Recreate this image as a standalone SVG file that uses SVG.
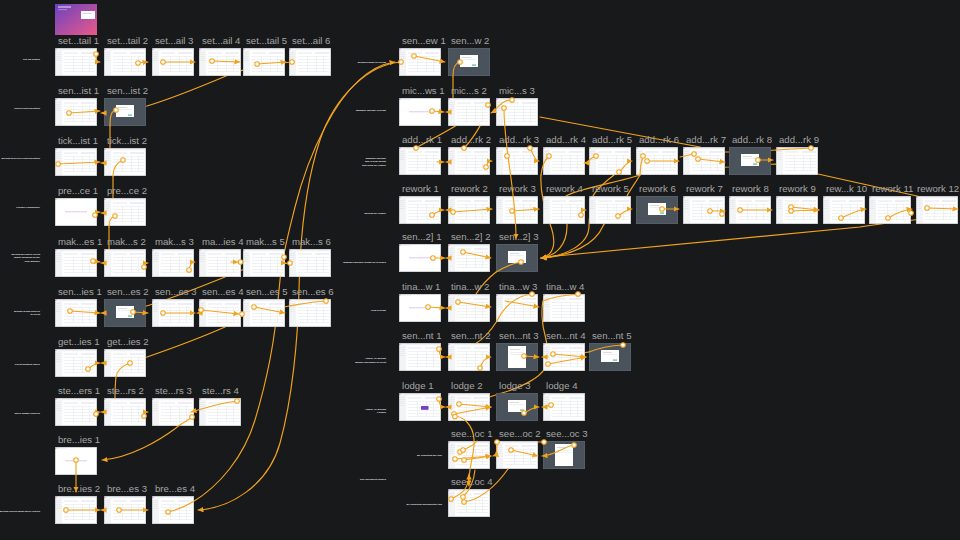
<svg xmlns="http://www.w3.org/2000/svg" xmlns:xlink="http://www.w3.org/1999/xlink" width="960" height="540" viewBox="0 0 960 540">
<style>
.ln{fill:none;stroke:#f2a31c;stroke-width:1.15;stroke-linecap:round}
.ar{marker-end:url(#arr)}
.hs{fill:#fff;stroke:#f2a31c;stroke-width:1.05}
.ttl{font-family:"Liberation Sans",Arial,sans-serif;font-size:9.6px;fill:#a6a6a6}
.lbl{font-family:"Liberation Sans",Arial,sans-serif;font-size:2.5px;font-weight:bold;fill:#e6e6e6;text-anchor:end}
</style>
<defs>
<marker id="arr" markerUnits="userSpaceOnUse" markerWidth="5.5" markerHeight="5.5" viewBox="0 0 10 10" refX="10" refY="5" orient="auto"><path d="M0,0L10,5L0,10z" fill="#f2a31c"/></marker>
<linearGradient id="cov" x1="0" y1="0" x2="1" y2="1"><stop offset="0" stop-color="#6a42c2"/><stop offset="1" stop-color="#ea5a88"/></linearGradient>
<symbol id="scr" viewBox="0 0 42 28">
<rect width="42" height="28" fill="#fff"/>
<rect width="7" height="28" fill="#f3f4f6"/>
<rect width="1.3" height="1.8" fill="#d43f8d"/>
<rect x="7" width="35" height="2.2" fill="#eef0f3"/>
<g fill="#dfe2e6">
<rect x="1.2" y="4" width="4.4" height=".6"/><rect x="1.2" y="6" width="4.4" height=".6"/><rect x="1.2" y="8" width="4.4" height=".6"/><rect x="1.2" y="10" width="4.4" height=".6"/><rect x="1.2" y="12" width="4.4" height=".6"/>
<rect x="9" y="4.6" width="14" height=".8"/>
<rect x="9" y="8" width="31" height=".45"/><rect x="9" y="11" width="31" height=".45"/><rect x="9" y="14" width="31" height=".45"/><rect x="9" y="17" width="31" height=".45"/><rect x="9" y="20" width="31" height=".45"/><rect x="9" y="23" width="31" height=".45"/>
<rect x="18" y="8" width=".45" height="16"/><rect x="27" y="8" width=".45" height="16"/><rect x="34" y="8" width=".45" height="16"/>
</g>
<rect x="26" y="4.3" width="14" height="1.3" fill="#e4e7f0"/>
<rect x=".3" y=".3" width="41.4" height="27.4" fill="none" stroke="#b5b8be" stroke-width=".6"/>
</symbol>
<symbol id="scr-blank" viewBox="0 0 42 28">
<rect width="42" height="28" fill="#fff"/>
<rect width="1.3" height="1.8" fill="#d43f8d"/>
<rect x="2" y="1.5" width="10" height=".6" fill="#e6e8ec"/>
<rect x="10" y="13.5" width="22" height=".7" fill="#cfb2e6"/>
<rect x=".3" y=".3" width="41.4" height="27.4" fill="none" stroke="#b5b8be" stroke-width=".6"/>
</symbol>
<symbol id="scr-dark" viewBox="0 0 42 28">
<rect width="42" height="28" fill="#4a525c"/>
<rect x="12" y="7" width="18" height="12" fill="#fff"/>
<rect x="14" y="9" width="9" height=".7" fill="#c9ccd2"/>
<rect x="14" y="11.5" width="14" height=".5" fill="#dde0e4"/>
<rect x="24" y="16.5" width="4" height="1.2" fill="#59c08a"/>
<rect x=".3" y=".3" width="41.4" height="27.4" fill="none" stroke="#5d6570" stroke-width=".6"/>
</symbol>
<symbol id="scr-doc" viewBox="0 0 42 28">
<rect width="42" height="28" fill="#4a525c"/>
<rect x="12" y="3" width="18" height="22" fill="#fff"/>
<rect x="14" y="6" width="10" height=".7" fill="#c9ccd2"/>
<rect x="14" y="9" width="14" height=".5" fill="#dde0e4"/>
<rect x="14" y="11" width="14" height=".5" fill="#dde0e4"/>
<rect x=".3" y=".3" width="41.4" height="27.4" fill="none" stroke="#5d6570" stroke-width=".6"/>
</symbol>
</defs>
<rect width="960" height="540" fill="#18191b"/>

<g id="labels">
<text class="lbl" x="40" y="60">Set job details</text>
<text class="lbl" x="40" y="109">Send client allocation</text>
<text class="lbl" x="40" y="158.5">Brenda ticks off client allocation</text>
<text class="lbl" x="40" y="207.5">Prepare compliance</text>
<text class="lbl" x="40" y="255.3">Brenda will query Client</text>
<text class="lbl" x="40" y="258.4">about holdings on the</text>
<text class="lbl" x="40" y="261.5">Trial Balance</text>
<text class="lbl" x="40" y="312.2">Brenda sends queries</text>
<text class="lbl" x="40" y="315.3">to client</text>
<text class="lbl" x="40" y="365">Client answers query</text>
<text class="lbl" x="40" y="414">Steve answer queries</text>
<text class="lbl" x="40" y="512">Brenda checks what Steve replied</text>
<text class="lbl" x="386" y="63">Brenda Sends to review</text>
<text class="lbl" x="386" y="111">Manager Michael reviews</text>
<text class="lbl" x="386" y="159">Manager Michael</text>
<text class="lbl" x="386" y="162.3">add review points</text>
<text class="lbl" x="386" y="165.6">and send for rework</text>
<text class="lbl" x="386" y="214">Brenda for rework</text>
<text class="lbl" x="386" y="262.5">Manager Michael sends for review 2</text>
<text class="lbl" x="386" y="310.5">Tina reviews</text>
<text class="lbl" x="386" y="359.2">Admin, or Brenda</text>
<text class="lbl" x="386" y="362.5">Bundle packages to client</text>
<text class="lbl" x="386" y="409.7">Admin, or Brenda</text>
<text class="lbl" x="386" y="413">Lodges</text>
<text class="lbl" x="442" y="455.5">By exporting the tool</text>
<text class="lbl" x="386" y="480">Due document signed</text>
<text class="lbl" x="442" y="504.5">By exporting document(s) tab</text>
</g>

<g id="connectors-behind">
<path class="ln" d="M292,62 C265,64 245,68 226,76 C200,87 170,99 147,106 C125,112 115,113 106,113"/>
<path class="ln" d="M110,126 L110,150 C110,158 109,163 106,163"/>
<path class="ln" d="M113,176 L113,200 C113,208 110,213 106,213"/>
<path class="ln" d="M109,227 L109,251 C109,258 108,263 106,263"/>
<path class="ln" d="M290,263 C268,265 252,268 242,270 C235,272 230,274 225,277 C205,285 185,293 168,299 C140,309 120,313 106,313"/>
<path class="ln" d="M289,306 C270,310 250,313 242,316 C235,319 230,323 225,327 C200,338 170,349 147,357 C128,362 115,363 106,363"/>
<path class="ln" d="M116,377 C115,385 115,392 115,400 C115,408 110,412 106,412"/>
<path class="ln ar" d="M193,501.7 C218.4,486.6 243.75,457.5 255,420 S275,340 278,300 S288,235 295,207 S335,70 395,62"/>
<path class="ln ar" d="M401,62 C370,64 335,95 320,140 S300,240 299,290 S292,400 280,443 S230,508 198,510"/>
<path class="ln" d="M453,76 L453,100 C453,108 452,112 451,112"/>
<path class="ln" d="M416,148 C430,140 450,130 465,120"/>
<path class="ln" d="M488,105 C487,118 472,140 464,148"/>
<path class="ln" d="M776,150 C760,151 740,152 726,152 C715,152 705,150 700,147 L540,117"/>
<path class="ln" d="M930,200 L917,196 L818,174 L776,164 L729,167 L705,168"/>
<path class="ln ar" d="M541,175 C540,190 545,210 550,224 C556,240 556,255 541,258"/>
<path class="ln ar" d="M640,175 C620,182 580,188 566,196 C566,210 567,220 567,226 C567,245 556,256 541,258"/>
<path class="ln ar" d="M614,175 C605,182 596,190 593,196 C590,210 589,220 589,226 C589,245 565,256 541,258"/>
<path class="ln ar" d="M640,175 C636,182 630,190 627,196 C615,210 606,220 603,226 C595,245 570,256 541,258"/>
<path class="ln ar" d="M925,219 C900,221 880,224 860,227 L556,256 C550,257 546,258 541,258"/>
<path class="ln" d="M495.8,272.3 C487.7,278.6 480.95,286.3 476,294 C470,303 460,308 451,308"/>
<path class="ln" d="M497,321 C490,332 482,340 475,344 C468,350 458,357 451,357"/>
<path class="ln" d="M543,301 C541,310 542,325 545,335 C548,345 548,360 545,368 C540,378 520,388 502,393 C480,400 460,407 451,407"/>
<path class="ln" d="M589,352 C575,354 560,357 548,357"/>
<path class="ln" d="M508,469 C512,462 516,458 520,455"/>
</g>

<g id="n-cover"><rect x="55" y="4" width="42" height="31" fill="url(#cov)"/><rect x="58" y="6.5" width="13" height="1" fill="#fff" opacity=".85"/><rect x="58" y="9.5" width="9" height=".6" fill="#fff" opacity=".6"/><rect x="81" y="11" width="14" height="8" fill="#fff"/><rect x="83" y="13" width="9" height=".6" fill="#d9a3c2"/></g>

<g id="n-set-detail-1"><text class="ttl" x="58" y="43.5">set...tail 1</text><use href="#scr" x="55" y="48" width="42" height="28"/></g>
<g id="n-set-detail-2"><text class="ttl" x="107" y="43.5">set...tail 2</text><use href="#scr" x="104" y="48" width="42" height="28"/></g>
<g id="n-set-detail-3"><text class="ttl" x="155" y="43.5">set...ail 3</text><use href="#scr" x="152" y="48" width="42" height="28"/></g>
<g id="n-set-detail-4"><text class="ttl" x="202" y="43.5">set...ail 4</text><use href="#scr" x="199" y="48" width="42" height="28"/></g>
<g id="n-set-detail-5"><text class="ttl" x="246" y="43.5">set...tail 5</text><use href="#scr" x="243" y="48" width="42" height="28"/></g>
<g id="n-set-detail-6"><text class="ttl" x="292" y="43.5">set...ail 6</text><use href="#scr" x="289" y="48" width="42" height="28"/></g>

<g id="n-send-list-1"><text class="ttl" x="58" y="93.5">sen...ist 1</text><use href="#scr" x="55" y="98" width="42" height="28"/></g>
<g id="n-send-list-2"><text class="ttl" x="107" y="93.5">sen...ist 2</text><use href="#scr-dark" x="104" y="98" width="42" height="28"/></g>
<g id="n-tick-list-1"><text class="ttl" x="58" y="143.5">tick...ist 1</text><use href="#scr" x="55" y="148" width="42" height="28"/></g>
<g id="n-tick-list-2"><text class="ttl" x="107" y="143.5">tick...ist 2</text><use href="#scr" x="104" y="148" width="42" height="28"/></g>
<g id="n-prepare-1"><text class="ttl" x="58" y="193.5">pre...ce 1</text><use href="#scr-blank" x="55" y="198" width="42" height="28"/></g>
<g id="n-prepare-2"><text class="ttl" x="107" y="193.5">pre...ce 2</text><use href="#scr" x="104" y="198" width="42" height="28"/></g>

<g id="n-make-1"><text class="ttl" x="58" y="244.5">mak...es 1</text><use href="#scr" x="55" y="249" width="42" height="28"/></g>
<g id="n-make-2"><text class="ttl" x="107" y="244.5">mak...s 2</text><use href="#scr" x="104" y="249" width="42" height="28"/></g>
<g id="n-make-3"><text class="ttl" x="155" y="244.5">mak...s 3</text><use href="#scr" x="152" y="249" width="42" height="28"/></g>
<g id="n-make-4"><text class="ttl" x="202" y="244.5">ma...ies 4</text><use href="#scr" x="199" y="249" width="42" height="28"/></g>
<g id="n-make-5"><text class="ttl" x="246" y="244.5">mak...s 5</text><use href="#scr" x="243" y="249" width="42" height="28"/></g>
<g id="n-make-6"><text class="ttl" x="292" y="244.5">mak...s 6</text><use href="#scr" x="289" y="249" width="42" height="28"/></g>

<g id="n-send-q-1"><text class="ttl" x="58" y="294.5">sen...ies 1</text><use href="#scr" x="55" y="299" width="42" height="28"/></g>
<g id="n-send-q-2"><text class="ttl" x="107" y="294.5">sen...es 2</text><use href="#scr-dark" x="104" y="299" width="42" height="28"/></g>
<g id="n-send-q-3"><text class="ttl" x="155" y="294.5">sen...es 3</text><use href="#scr" x="152" y="299" width="42" height="28"/></g>
<g id="n-send-q-4"><text class="ttl" x="202" y="294.5">sen...es 4</text><use href="#scr" x="199" y="299" width="42" height="28"/></g>
<g id="n-send-q-5"><text class="ttl" x="246" y="294.5">sen...es 5</text><use href="#scr" x="243" y="299" width="42" height="28"/></g>
<g id="n-send-q-6"><text class="ttl" x="292" y="294.5">sen...es 6</text><use href="#scr" x="289" y="299" width="42" height="28"/></g>

<g id="n-get-1"><text class="ttl" x="58" y="344.5">get...ies 1</text><use href="#scr" x="55" y="349" width="42" height="28"/></g>
<g id="n-get-2"><text class="ttl" x="107" y="344.5">get...ies 2</text><use href="#scr" x="104" y="349" width="42" height="28"/></g>

<g id="n-steve-1"><text class="ttl" x="58" y="393.5">ste...ers 1</text><use href="#scr" x="55" y="398" width="42" height="28"/></g>
<g id="n-steve-2"><text class="ttl" x="107" y="393.5">ste...rs 2</text><use href="#scr" x="104" y="398" width="42" height="28"/></g>
<g id="n-steve-3"><text class="ttl" x="155" y="393.5">ste...rs 3</text><use href="#scr" x="152" y="398" width="42" height="28"/></g>
<g id="n-steve-4"><text class="ttl" x="202" y="393.5">ste...rs 4</text><use href="#scr" x="199" y="398" width="42" height="28"/></g>

<g id="n-brenda-1"><text class="ttl" x="58" y="442.5">bre...ies 1</text><use href="#scr-blank" x="55" y="447" width="42" height="28"/></g>
<g id="n-brenda-2"><text class="ttl" x="58" y="491.5">bre...ies 2</text><use href="#scr" x="55" y="496" width="42" height="28"/></g>
<g id="n-brenda-3"><text class="ttl" x="107" y="491.5">bre...es 3</text><use href="#scr" x="104" y="496" width="42" height="28"/></g>
<g id="n-brenda-4"><text class="ttl" x="155" y="491.5">bre...es 4</text><use href="#scr" x="152" y="496" width="42" height="28"/></g>

<g id="n-review-1"><text class="ttl" x="402" y="43.5">sen...ew 1</text><use href="#scr" x="399" y="48" width="42" height="28"/></g>
<g id="n-review-2"><text class="ttl" x="451" y="43.5">sen...w 2</text><use href="#scr-dark" x="448" y="48" width="42" height="28"/></g>

<g id="n-mic-1"><text class="ttl" x="402" y="93.5">mic...ws 1</text><use href="#scr-blank" x="399" y="98" width="42" height="28"/></g>
<g id="n-mic-2"><text class="ttl" x="451" y="93.5">mic...s 2</text><use href="#scr" x="448" y="98" width="42" height="28"/></g>
<g id="n-mic-3"><text class="ttl" x="499" y="93.5">mic...s 3</text><use href="#scr" x="496" y="98" width="42" height="28"/></g>

<g id="n-add-1"><text class="ttl" x="402" y="142.5">add...rk 1</text><use href="#scr" x="399" y="147" width="42" height="28"/></g>
<g id="n-add-2"><text class="ttl" x="451" y="142.5">add...rk 2</text><use href="#scr" x="448" y="147" width="42" height="28"/></g>
<g id="n-add-3"><text class="ttl" x="499" y="142.5">add...rk 3</text><use href="#scr" x="496" y="147" width="42" height="28"/></g>
<g id="n-add-4"><text class="ttl" x="546" y="142.5">add...rk 4</text><use href="#scr" x="543" y="147" width="42" height="28"/></g>
<g id="n-add-5"><text class="ttl" x="592" y="142.5">add...rk 5</text><use href="#scr" x="589" y="147" width="42" height="28"/></g>
<g id="n-add-6"><text class="ttl" x="639" y="142.5">add...rk 6</text><use href="#scr" x="636" y="147" width="42" height="28"/></g>
<g id="n-add-7"><text class="ttl" x="686" y="142.5">add...rk 7</text><use href="#scr" x="683" y="147" width="42" height="28"/></g>
<g id="n-add-8"><text class="ttl" x="732" y="142.5">add...rk 8</text><use href="#scr-dark" x="729" y="147" width="42" height="28"/></g>
<g id="n-add-9"><text class="ttl" x="779" y="142.5">add...rk 9</text><use href="#scr" x="776" y="147" width="42" height="28"/></g>

<g id="n-rework-1"><text class="ttl" x="402" y="191.5">rework 1</text><use href="#scr" x="399" y="196" width="42" height="28"/></g>
<g id="n-rework-2"><text class="ttl" x="451" y="191.5">rework 2</text><use href="#scr" x="448" y="196" width="42" height="28"/></g>
<g id="n-rework-3"><text class="ttl" x="499" y="191.5">rework 3</text><use href="#scr" x="496" y="196" width="42" height="28"/></g>
<g id="n-rework-4"><text class="ttl" x="546" y="191.5">rework 4</text><use href="#scr" x="543" y="196" width="42" height="28"/></g>
<g id="n-rework-5"><text class="ttl" x="592" y="191.5">rework 5</text><use href="#scr" x="589" y="196" width="42" height="28"/></g>
<g id="n-rework-6"><text class="ttl" x="639" y="191.5">rework 6</text><use href="#scr-dark" x="636" y="196" width="42" height="28"/></g>
<g id="n-rework-7"><text class="ttl" x="686" y="191.5">rework 7</text><use href="#scr" x="683" y="196" width="42" height="28"/></g>
<g id="n-rework-8"><text class="ttl" x="732" y="191.5">rework 8</text><use href="#scr" x="729" y="196" width="42" height="28"/></g>
<g id="n-rework-9"><text class="ttl" x="779" y="191.5">rework 9</text><use href="#scr" x="776" y="196" width="42" height="28"/></g>
<g id="n-rework-10"><text class="ttl" x="826" y="191.5">rew...k 10</text><use href="#scr" x="823" y="196" width="42" height="28"/></g>
<g id="n-rework-11"><text class="ttl" x="872" y="191.5">rework 11</text><use href="#scr" x="869" y="196" width="42" height="28"/></g>
<g id="n-rework-12"><text class="ttl" x="917" y="191.5">rework 12</text><use href="#scr" x="916" y="196" width="42" height="28"/></g>

<g id="n-review2-1"><text class="ttl" x="402" y="239.5">sen...2] 1</text><use href="#scr-blank" x="399" y="244" width="42" height="28"/></g>
<g id="n-review2-2"><text class="ttl" x="451" y="239.5">sen...2] 2</text><use href="#scr" x="448" y="244" width="42" height="28"/></g>
<g id="n-review2-3"><text class="ttl" x="499" y="239.5">sen...2] 3</text><use href="#scr-dark" x="496" y="244" width="42" height="28"/></g>

<g id="n-tina-1"><text class="ttl" x="402" y="289.5">tina...w 1</text><use href="#scr-blank" x="399" y="294" width="42" height="28"/></g>
<g id="n-tina-2"><text class="ttl" x="451" y="289.5">tina...w 2</text><use href="#scr" x="448" y="294" width="42" height="28"/></g>
<g id="n-tina-3"><text class="ttl" x="499" y="289.5">tina...w 3</text><use href="#scr" x="496" y="294" width="42" height="28"/></g>
<g id="n-tina-4"><text class="ttl" x="546" y="289.5">tina...w 4</text><use href="#scr" x="543" y="294" width="42" height="28"/></g>

<g id="n-client-1"><text class="ttl" x="402" y="338.5">sen...nt 1</text><use href="#scr" x="399" y="343" width="42" height="28"/></g>
<g id="n-client-2"><text class="ttl" x="451" y="338.5">sen...nt 2</text><use href="#scr" x="448" y="343" width="42" height="28"/></g>
<g id="n-client-3"><text class="ttl" x="499" y="338.5">sen...nt 3</text><use href="#scr-doc" x="496" y="343" width="42" height="28"/></g>
<g id="n-client-4"><text class="ttl" x="546" y="338.5">sen...nt 4</text><use href="#scr" x="543" y="343" width="42" height="28"/></g>
<g id="n-client-5"><text class="ttl" x="592" y="338.5">sen...nt 5</text><use href="#scr-dark" x="589" y="343" width="42" height="28"/></g>

<g id="n-lodge-1"><text class="ttl" x="402" y="388.5">lodge 1</text><use href="#scr" x="399" y="393" width="42" height="28"/><rect x="421" y="406" width="7.5" height="3.8" fill="#7b3fc4"/></g>
<g id="n-lodge-2"><text class="ttl" x="451" y="388.5">lodge 2</text><use href="#scr" x="448" y="393" width="42" height="28"/></g>
<g id="n-lodge-3"><text class="ttl" x="499" y="388.5">lodge 3</text><use href="#scr-dark" x="496" y="393" width="42" height="28"/></g>
<g id="n-lodge-4"><text class="ttl" x="546" y="388.5">lodge 4</text><use href="#scr" x="543" y="393" width="42" height="28"/></g>

<g id="n-seedoc-1"><text class="ttl" x="451" y="436.5">see...oc 1</text><use href="#scr" x="448" y="441" width="42" height="28"/></g>
<g id="n-seedoc-2"><text class="ttl" x="499" y="436.5">see...oc 2</text><use href="#scr" x="496" y="441" width="42" height="28"/></g>
<g id="n-seedoc-3"><text class="ttl" x="546" y="436.5">see...oc 3</text><use href="#scr-doc" x="543" y="441" width="42" height="28"/></g>
<g id="n-seedoc-4"><text class="ttl" x="451" y="484.5">see...oc 4</text><use href="#scr" x="448" y="489" width="42" height="28"/></g>

<g id="connectors">
<path class="ln ar" d="M96,54 C96,59 96,62 100,62"/>
<path class="ln ar" d="M138,63 L148,62"/>
<path class="ln ar" d="M163,62 L195,62"/>
<path class="ln ar" d="M212,61 L240,62"/>
<path class="ln ar" d="M257,64 L286,62"/>
<path class="ln ar" d="M69,113 L100,111"/>
<path class="ln ar" d="M106,113 L101,113"/>
<path class="ln" d="M116,110 C111,111 110,116 110,126"/>
<path class="ln ar" d="M58,164 L100,162"/>
<path class="ln ar" d="M106,163 L101,163"/>
<path class="ln" d="M123,160 C116,163 113,169 113,176"/>
<path class="ln ar" d="M95,215 C96,213 97,212 100,212"/>
<path class="ln ar" d="M106,213 L101,213"/>
<path class="ln" d="M115,216 C110,217 109,221 109,227"/>
<path class="ln ar" d="M93,261 L100,262"/>
<path class="ln ar" d="M106,263 L101,263"/>
<path class="ln ar" d="M144,267 C144,264 145,263 148,263"/>
<path class="ln ar" d="M189,270 C190,266 191,262 195,262"/>
<path class="ln ar" d="M231,262 L238,262"/>
<path class="ln ar" d="M284,257 C283,262 281,263 286,263"/>
<path class="ln ar" d="M70,311 L100,313"/>
<path class="ln ar" d="M106,313 L101,313"/>
<path class="ln ar" d="M133,312 L148,313"/>
<path class="ln ar" d="M163,313 L195,313"/>
<path class="ln ar" d="M202,313 L197,313"/>
<path class="ln ar" d="M201,310 L239,314"/>
<path class="ln ar" d="M254,307 L285,313"/>
<path class="ln" d="M326,301 C310,302 296,305 289,306"/>
<path class="ln ar" d="M88,369 C92,366 95,363 100,363"/>
<path class="ln ar" d="M106,363 L101,363"/>
<path class="ln" d="M130,363 C121,366 117,371 116,377"/>
<path class="ln ar" d="M96,414 C97,412 98,412 100,412"/>
<path class="ln ar" d="M106,412 L101,412"/>
<path class="ln ar" d="M144,416 C144,413 145,412 148,412"/>
<path class="ln ar" d="M237,401 C220,403 205,408 191,412"/>
<path class="ln ar" d="M192,417 C186,422 180,424 176,428 C160,440 130,458 102,460"/>
<path class="ln ar" d="M76,460 L76,492"/>
<path class="ln ar" d="M66,510 L100,510"/>
<path class="ln ar" d="M106,510 L101,510"/>
<path class="ln ar" d="M119,510 L148,510"/>
<path class="ln" d="M168,512 C176,510.25 184.5,506.75 193,501.7"/>

<path class="ln ar" d="M414,56 L445,62"/>
<path class="ln" d="M460,62 C455,63 453,68 453,76"/>
<path class="ln ar" d="M432,111 L444,112"/>
<path class="ln ar" d="M451,112 L446,112"/>
<path class="ln ar" d="M512,100 C500,100 497,110 491,113"/>
<path class="ln ar" d="M504,108 C504,150 516,190 516,239"/>
<path class="ln ar" d="M437,162 L444,162"/>
<path class="ln ar" d="M451,162 L446,162"/>
<path class="ln ar" d="M486,167 C488,163 488,161 492,161"/>
<path class="ln ar" d="M530,148 C533,152 534,161 539,161"/>
<path class="ln" d="M549,156 C544,160 542,167 541,175"/>
<path class="ln ar" d="M596,156 C590,157 589,163 584,163"/>
<path class="ln ar" d="M619,172 C624,168 627,161 632,161"/>
<path class="ln" d="M643,156 C641,162 640,168 640,175"/>
<path class="ln ar" d="M647,161 L679,161"/>
<path class="ln" d="M694,154 L680,157"/>
<path class="ln ar" d="M698,159 L725,162"/>
<path class="ln ar" d="M758,160 L773,160"/>
<path class="ln" d="M811,148 L776,150"/>
<path class="ln ar" d="M432,215 C437,212 440,210 444,210"/>
<path class="ln ar" d="M451,210 L446,210"/>
<path class="ln ar" d="M453,212 L492,209"/>
<path class="ln ar" d="M512,211 L539,209"/>
<path class="ln ar" d="M581,215 C581,211 582,210 586,210"/>
<path class="ln ar" d="M618,216 C623,213 627,209 632,209"/>
<path class="ln ar" d="M662,209 L679,209"/>
<path class="ln ar" d="M710,211 L725,211"/>
<path class="ln ar" d="M740,210 L772,210"/>
<path class="ln ar" d="M791,207 L819,210"/>
<path class="ln ar" d="M791,211 L819,210"/>
<path class="ln ar" d="M841,218 C850,214 858,210 866,209"/>
<path class="ln ar" d="M888,218 C895,214 903,210 912,209"/>
<path class="ln ar" d="M927,208 L958,209"/>
<path class="ln ar" d="M433,258 L445,258"/>
<path class="ln ar" d="M451,258 L446,258"/>
<path class="ln ar" d="M463,252 L491,258"/>
<path class="ln" d="M521,262 C511.5,263.8 503.3,267.6 495.8,272.3"/>
<path class="ln ar" d="M428,307 L445,308"/>
<path class="ln ar" d="M451,308 L446,308"/>
<path class="ln ar" d="M458,302 L491,307"/>
<path class="ln" d="M532,294 C515,296 503,308 497,321"/>
<path class="ln ar" d="M505,301 L539,307"/>
<path class="ln" d="M578,294 C566,295 552,297 543,301"/>
<path class="ln ar" d="M439,349 C439,354 440,357 445,357"/>
<path class="ln ar" d="M451,357 L446,357"/>
<path class="ln ar" d="M480,368 C482,362 485,357 491,357"/>
<path class="ln ar" d="M524,356 L539,357"/>
<path class="ln ar" d="M548,357 L542,357"/>
<path class="ln ar" d="M553,354 L586,357"/>
<path class="ln ar" d="M548,364 L586,357"/>
<path class="ln" d="M623,345 C605,346 594,350 589,352"/>
<path class="ln ar" d="M439,399 C439,404 440,407 445,407"/>
<path class="ln ar" d="M451,407 L446,407"/>
<path class="ln ar" d="M459,404 L491,407"/>
<path class="ln ar" d="M454,414 L491,407"/>
<path class="ln ar" d="M524,413 C530,410 533,407 539,407"/>
<path class="ln ar" d="M551,405 C547,406 546,407 542,407"/>
<path class="ln ar" d="M455,416 C468,418 475,430 474,445 C473,460 468,470 469,486"/>
<path class="ln" d="M463,450 C470,447 475,444 477,441"/>
<path class="ln ar" d="M455,459 L491,456"/>
<path class="ln ar" d="M464,460 L491,456"/>
<path class="ln ar" d="M451,499 C458,495 469,492 469,474"/>
<path class="ln" d="M464,502 C480,500 496,486 508,469"/>
<path class="ln" d="M463,497 C470,490 474,480 475,470"/>
<path class="ln ar" d="M497,442 C497,450 497,455 493,456"/>
<path class="ln ar" d="M511,450 L538,456"/>
<path class="ln" d="M544,442 L538,442"/>
<path class="ln ar" d="M574,445 C565,446 556,455 542,456"/>

<circle class="hs" cx="96" cy="54" r="2.3"/><circle class="hs" cx="138" cy="63" r="2.3"/><circle class="hs" cx="163" cy="62" r="2.3"/><circle class="hs" cx="212" cy="61" r="2.3"/><circle class="hs" cx="257" cy="64" r="2.3"/><circle class="hs" cx="292" cy="62" r="2.3"/>
<circle class="hs" cx="69" cy="113" r="2.3"/><circle class="hs" cx="116" cy="110" r="2.3"/>
<circle class="hs" cx="58" cy="164" r="2.3"/><circle class="hs" cx="123" cy="160" r="2.3"/>
<circle class="hs" cx="95" cy="215" r="2.3"/><circle class="hs" cx="115" cy="216" r="2.3"/>
<circle class="hs" cx="93" cy="261" r="2.3"/><circle class="hs" cx="144" cy="267" r="2.3"/><circle class="hs" cx="189" cy="270" r="2.3"/><circle class="hs" cx="240.5" cy="262" r="2.3"/><circle class="hs" cx="284" cy="257" r="2.3"/><circle class="hs" cx="290" cy="263" r="2.3"/>
<circle class="hs" cx="70" cy="311" r="2.3"/><circle class="hs" cx="133" cy="312" r="2.3"/><circle class="hs" cx="163" cy="313" r="2.3"/><circle class="hs" cx="201" cy="310" r="2.3"/><circle class="hs" cx="242" cy="314" r="2.3"/><circle class="hs" cx="254" cy="307" r="2.3"/><circle class="hs" cx="326" cy="301" r="2.3"/>
<circle class="hs" cx="88" cy="369" r="2.3"/><circle class="hs" cx="130" cy="363" r="2.3"/>
<circle class="hs" cx="96" cy="414" r="2.3"/><circle class="hs" cx="144" cy="416" r="2.3"/><circle class="hs" cx="192" cy="417" r="2.3"/><circle class="hs" cx="237" cy="401" r="2.3"/>
<circle class="hs" cx="76" cy="460" r="2.3"/>
<circle class="hs" cx="66" cy="510" r="2.3"/><circle class="hs" cx="119" cy="510" r="2.3"/><circle class="hs" cx="168" cy="512" r="2.3"/>
<circle class="hs" cx="401" cy="62" r="2.3"/><circle class="hs" cx="414" cy="56" r="2.3"/><circle class="hs" cx="460" cy="62" r="2.3"/>
<circle class="hs" cx="432" cy="111" r="2.3"/><circle class="hs" cx="488" cy="105" r="2.3"/><circle class="hs" cx="512" cy="100" r="2.3"/><circle class="hs" cx="504" cy="108" r="2.3"/>
<circle class="hs" cx="416" cy="148" r="2.3"/><circle class="hs" cx="464" cy="148" r="2.3"/><circle class="hs" cx="486" cy="167" r="2.3"/><circle class="hs" cx="507" cy="156" r="2.3"/><circle class="hs" cx="530" cy="148" r="2.3"/><circle class="hs" cx="549" cy="156" r="2.3"/><circle class="hs" cx="596" cy="156" r="2.3"/><circle class="hs" cx="619" cy="172" r="2.3"/><circle class="hs" cx="643" cy="156" r="2.3"/><circle class="hs" cx="647" cy="161" r="2.3"/><circle class="hs" cx="694" cy="154" r="2.3"/><circle class="hs" cx="698" cy="159" r="2.3"/><circle class="hs" cx="758" cy="160" r="2.3"/><circle class="hs" cx="811" cy="148" r="2.3"/>
<circle class="hs" cx="432" cy="215" r="2.3"/><circle class="hs" cx="453" cy="212" r="2.3"/><circle class="hs" cx="512" cy="211" r="2.3"/><circle class="hs" cx="581" cy="215" r="2.3"/><circle class="hs" cx="618" cy="216" r="2.3"/><circle class="hs" cx="662" cy="209" r="2.3"/><circle class="hs" cx="710" cy="211" r="2.3"/><circle class="hs" cx="722" cy="214" r="2.3"/><circle class="hs" cx="740" cy="210" r="2.3"/><circle class="hs" cx="791" cy="207" r="2.3"/><circle class="hs" cx="791" cy="211" r="2.3"/><circle class="hs" cx="841" cy="218" r="2.3"/><circle class="hs" cx="888" cy="218" r="2.3"/><circle class="hs" cx="911" cy="213" r="2.3"/><circle class="hs" cx="927" cy="208" r="2.3"/>
<circle class="hs" cx="433" cy="258" r="2.3"/><circle class="hs" cx="463" cy="252" r="2.3"/><circle class="hs" cx="521" cy="262" r="2.3"/>
<circle class="hs" cx="428" cy="307" r="2.3"/><circle class="hs" cx="458" cy="302" r="2.3"/><circle class="hs" cx="532" cy="294" r="2.3"/><circle class="hs" cx="578" cy="294" r="2.3"/>
<circle class="hs" cx="439" cy="349" r="2.3"/><circle class="hs" cx="480" cy="368" r="2.3"/><circle class="hs" cx="524" cy="356" r="2.3"/><circle class="hs" cx="553" cy="354" r="2.3"/><circle class="hs" cx="548" cy="364" r="2.3"/><circle class="hs" cx="623" cy="345" r="2.3"/>
<circle class="hs" cx="439" cy="399" r="2.3"/><circle class="hs" cx="459" cy="404" r="2.3"/><circle class="hs" cx="454" cy="414" r="2.3"/><circle class="hs" cx="455" cy="416.5" r="2.3"/><circle class="hs" cx="524" cy="413" r="2.3"/><circle class="hs" cx="551" cy="405" r="2.3"/>
<circle class="hs" cx="460" cy="452" r="2.3"/><circle class="hs" cx="463" cy="450" r="2.3"/><circle class="hs" cx="455" cy="459" r="2.3"/><circle class="hs" cx="464" cy="460" r="2.3"/><circle class="hs" cx="497" cy="442" r="2.3"/><circle class="hs" cx="511" cy="450" r="2.3"/><circle class="hs" cx="544" cy="442" r="2.3"/><circle class="hs" cx="574" cy="445" r="2.3"/>
<circle class="hs" cx="451" cy="499" r="2.3"/><circle class="hs" cx="463" cy="497" r="2.3"/><circle class="hs" cx="464" cy="502" r="2.3"/>
</g>
</svg>
